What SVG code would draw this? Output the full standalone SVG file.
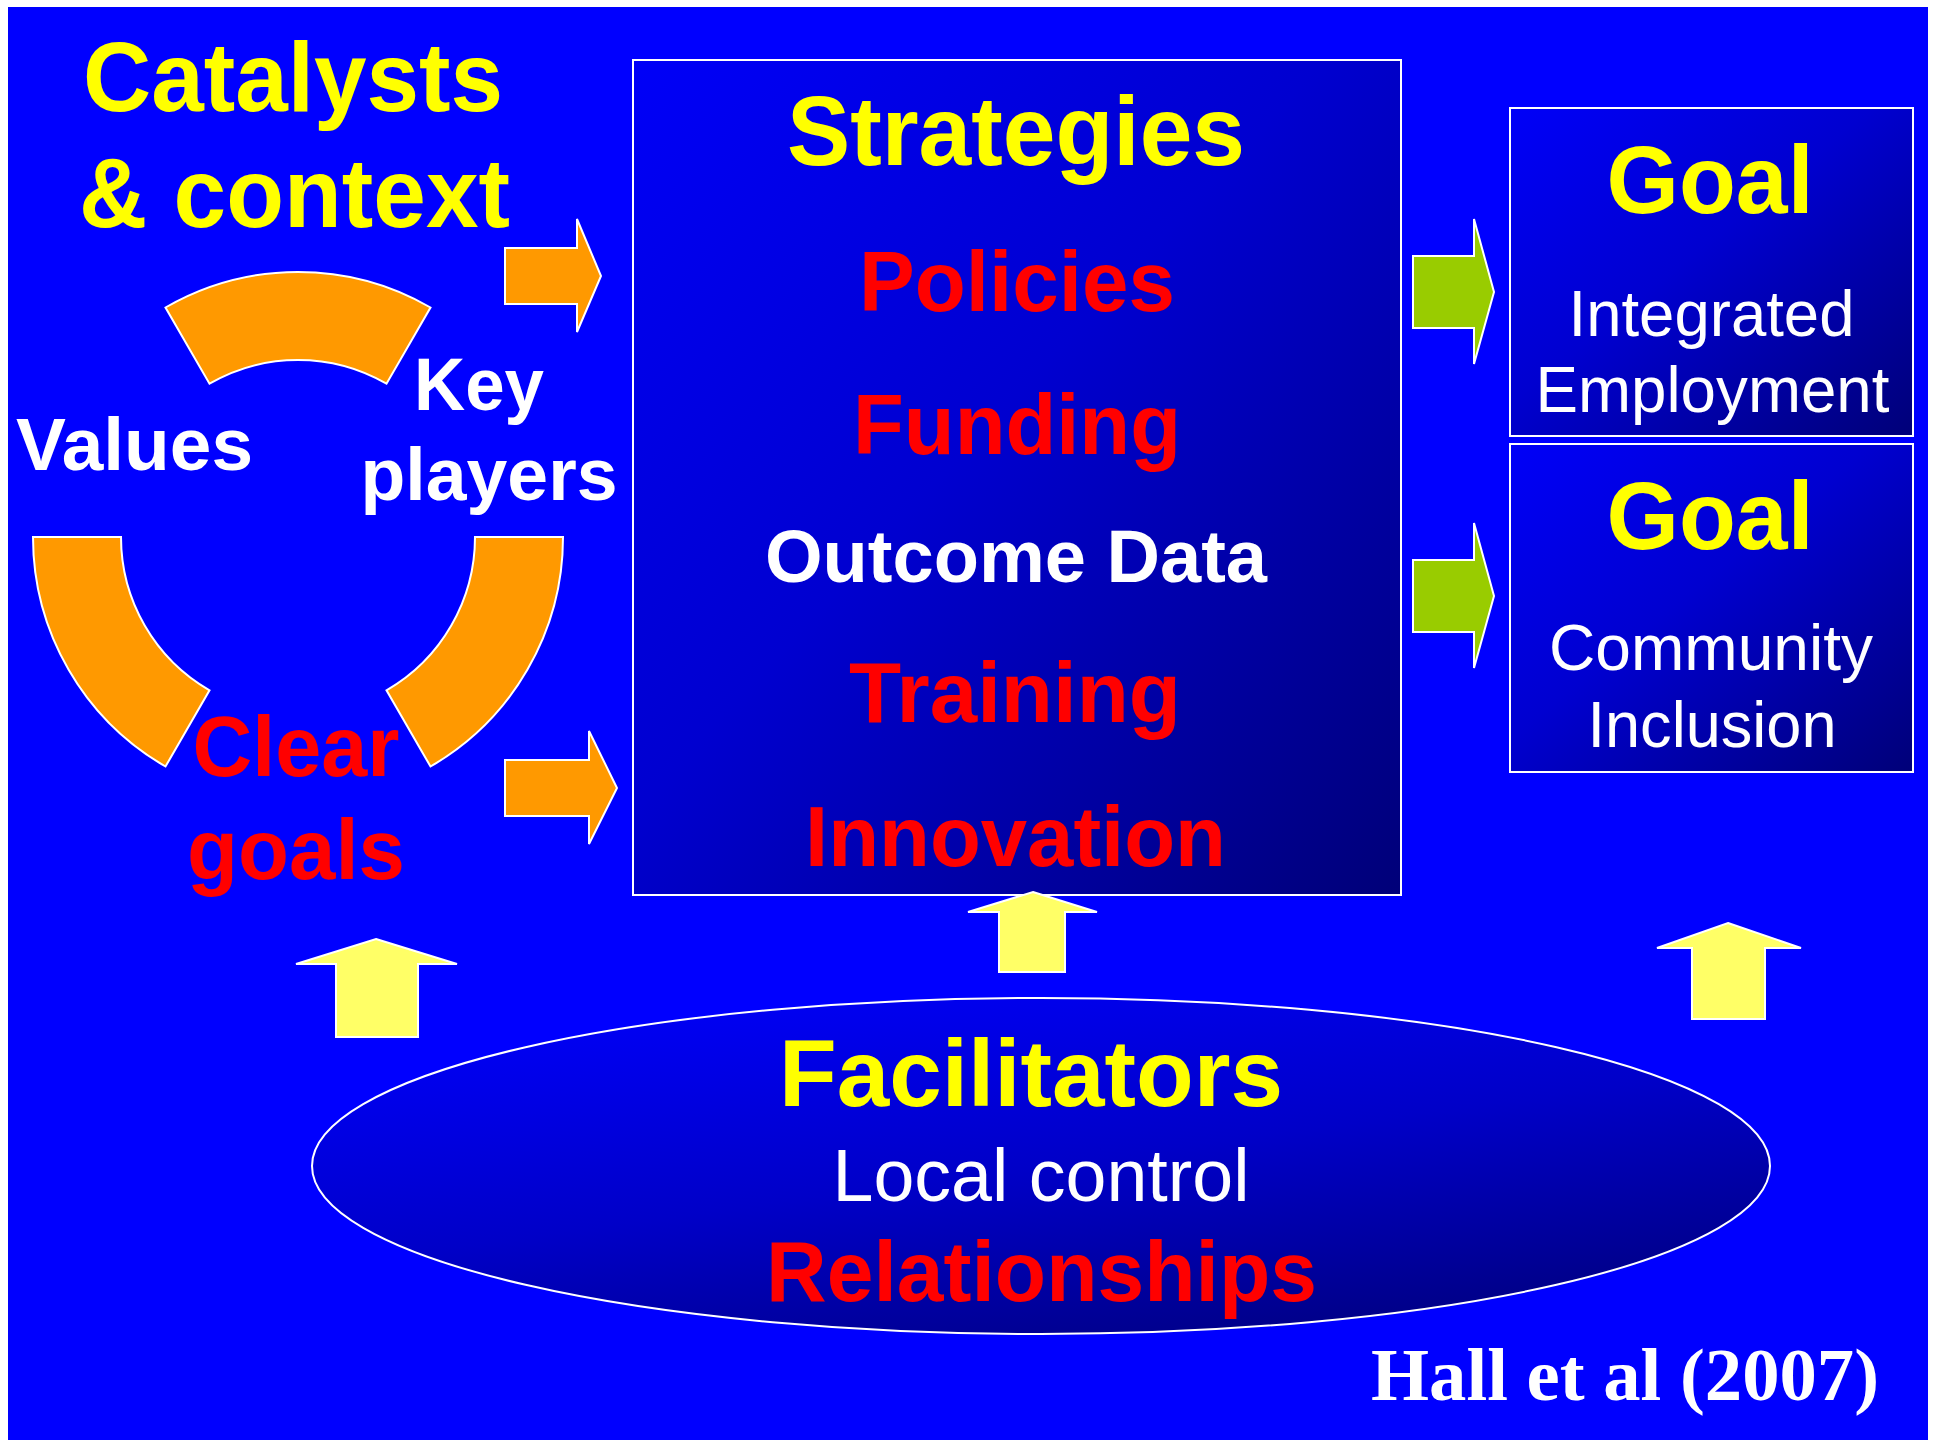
<svg xmlns="http://www.w3.org/2000/svg" width="1933" height="1440" viewBox="0 0 1933 1440">
<defs>
<linearGradient id="boxGrad" x1="0" y1="0" x2="1" y2="1">
<stop offset="0" stop-color="#0000F8"/>
<stop offset="0.45" stop-color="#0000D0"/>
<stop offset="1" stop-color="#000078"/>
</linearGradient>
<linearGradient id="ellGrad" x1="0.2" y1="0" x2="0.8" y2="1">
<stop offset="0" stop-color="#0000F8"/>
<stop offset="0.5" stop-color="#0000C8"/>
<stop offset="1" stop-color="#000080"/>
</linearGradient>
<style>
.bx{fill:url(#boxGrad);stroke:#FFFFFF;stroke-width:2}
.seg{fill:#FF9900;stroke:#FFFFFF;stroke-width:2}
.org{fill:#FF9900;stroke:#FFFFFF;stroke-width:2}
.grn{fill:#99CC00;stroke:#FFFFFF;stroke-width:2}
.ylw{fill:#FFFF66;stroke:#FFFFFF;stroke-width:2}
text{font-family:"Liberation Sans",Arial,sans-serif;text-anchor:middle}
.b{font-weight:bold}
.y{fill:#FFFF00}
.r{fill:#FF0000}
.w{fill:#FFFFFF}
.serif{font-family:"Liberation Serif","Times New Roman",serif;font-weight:bold}
</style>
</defs>
<rect x="0" y="0" width="1933" height="1440" fill="#FFFFFF"/>
<rect x="8" y="7" width="1920" height="1433" fill="#0000FF"/>

<g id="catalysts">
<text class="b y" x="293" y="111" font-size="98" textLength="420" lengthAdjust="spacingAndGlyphs">Catalysts</text>
<text class="b y" x="294.5" y="227" font-size="98" textLength="431" lengthAdjust="spacingAndGlyphs">&amp; context</text>
<path class="seg" d="M165.5,307.5 A265,265 0 0 1 430.5,307.5 L386.5,383.7 A177,177 0 0 0 209.5,383.7 Z"/>
<path class="seg" d="M33,537 L121,537 A177,177 0 0 0 209.5,690.3 L165.5,766.5 A265,265 0 0 1 33,537 Z"/>
<path class="seg" d="M475,537 L563,537 A265,265 0 0 1 430.5,766.5 L386.5,690.3 A177,177 0 0 0 475,537 Z"/>
<text class="b w" x="134.5" y="470" font-size="74" textLength="237" lengthAdjust="spacingAndGlyphs">Values</text>
<text class="b w" x="479" y="410" font-size="74" textLength="130" lengthAdjust="spacingAndGlyphs">Key</text>
<text class="b w" x="489" y="500" font-size="74" textLength="257" lengthAdjust="spacingAndGlyphs">players</text>
<text class="b r" x="296" y="776" font-size="85" textLength="207" lengthAdjust="spacingAndGlyphs">Clear</text>
<text class="b r" x="296" y="879" font-size="85" textLength="218" lengthAdjust="spacingAndGlyphs">goals</text>
</g>

<g id="strategies">
<rect class="bx" x="633" y="60" width="768" height="835"/>
<text class="b y" x="1016" y="165" font-size="99" textLength="458" lengthAdjust="spacingAndGlyphs">Strategies</text>
<text class="b r" x="1017" y="311" font-size="86" textLength="316" lengthAdjust="spacingAndGlyphs">Policies</text>
<text class="b r" x="1017" y="454" font-size="86" textLength="328" lengthAdjust="spacingAndGlyphs">Funding</text>
<text class="b w" x="1016" y="582" font-size="74" textLength="502" lengthAdjust="spacingAndGlyphs">Outcome Data</text>
<text class="b r" x="1015" y="722" font-size="86" textLength="332" lengthAdjust="spacingAndGlyphs">Training</text>
<text class="b r" x="1015.5" y="866" font-size="86" textLength="421" lengthAdjust="spacingAndGlyphs">Innovation</text>
</g>

<g id="goal-employment">
<rect class="bx" x="1510" y="108" width="403" height="328"/>
<text class="b y" x="1710" y="213" font-size="96" textLength="207" lengthAdjust="spacingAndGlyphs">Goal</text>
<text class="w" x="1711.5" y="336" font-size="65" textLength="286" lengthAdjust="spacingAndGlyphs">Integrated</text>
<text class="w" x="1712.5" y="412" font-size="65" textLength="354" lengthAdjust="spacingAndGlyphs">Employment</text>
</g>

<g id="goal-inclusion">
<rect class="bx" x="1510" y="444" width="403" height="328"/>
<text class="b y" x="1710" y="549" font-size="96" textLength="207" lengthAdjust="spacingAndGlyphs">Goal</text>
<text class="w" x="1711" y="670" font-size="65" textLength="324" lengthAdjust="spacingAndGlyphs">Community</text>
<text class="w" x="1712" y="747" font-size="65" textLength="249" lengthAdjust="spacingAndGlyphs">Inclusion</text>
</g>

<g id="facilitators">
<ellipse cx="1041" cy="1166" rx="729" ry="168" fill="url(#ellGrad)" stroke="#FFFFFF" stroke-width="2"/>
<text class="b y" x="1031" y="1106" font-size="95" textLength="504" lengthAdjust="spacingAndGlyphs">Facilitators</text>
<text class="w" x="1041" y="1201" font-size="75" textLength="417" lengthAdjust="spacingAndGlyphs">Local control</text>
<text class="b r" x="1041.5" y="1301" font-size="85" textLength="551" lengthAdjust="spacingAndGlyphs">Relationships</text>
</g>

<g id="connectors">
<path class="org" d="M505,248 L577,248 L577,219 L601,276 L577,332 L577,304 L505,304 Z"/>
<path class="org" d="M505,760 L589,760 L589,731 L617,788 L589,844 L589,816 L505,816 Z"/>
<path class="grn" d="M1413,256 L1474,256 L1474,219 L1494,292 L1474,364 L1474,328 L1413,328 Z"/>
<path class="grn" d="M1413,560 L1474,560 L1474,523 L1494,596 L1474,668 L1474,632 L1413,632 Z"/>
<path class="ylw" d="M376,939 L457,964 L418,964 L418,1037 L336,1037 L336,964 L296,964 Z"/>
<path class="ylw" d="M1033,892 L1097,912 L1065,912 L1065,972 L999,972 L999,912 L968,912 Z"/>
<path class="ylw" d="M1728,923 L1801,948 L1765,948 L1765,1019 L1692,1019 L1692,948 L1657,948 Z"/>
</g>

<g id="citation">
<text class="serif w" x="1625" y="1400" font-size="74" textLength="508" lengthAdjust="spacingAndGlyphs">Hall et al (2007)</text>
</g>
</svg>
